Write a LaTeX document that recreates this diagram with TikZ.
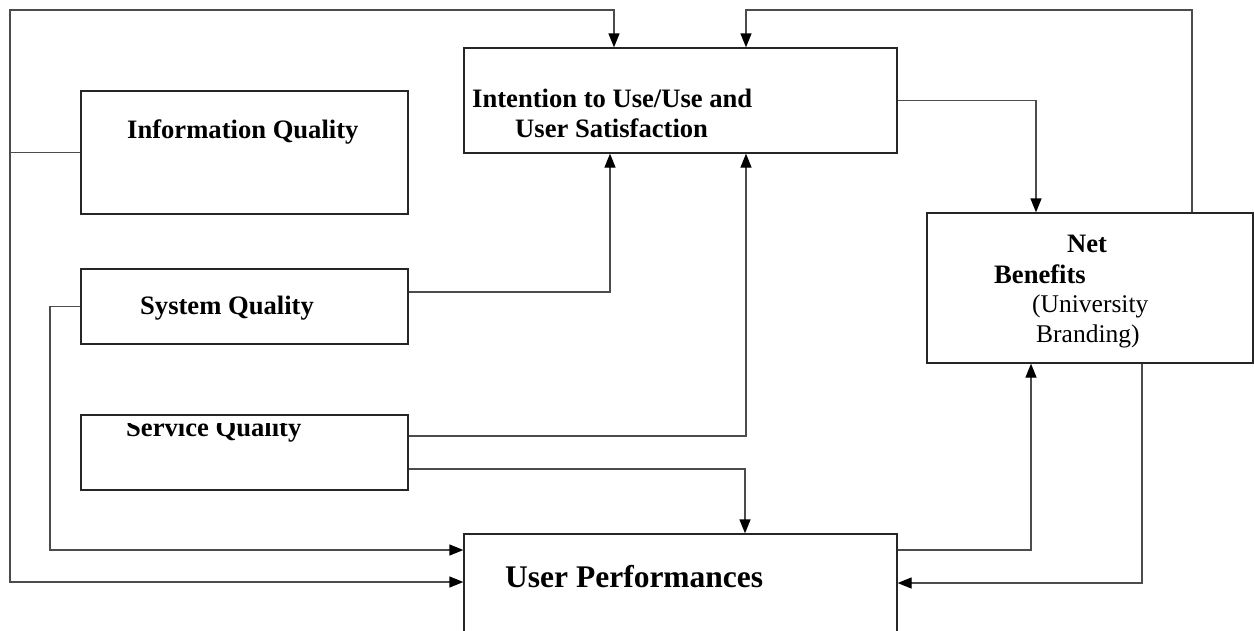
\documentclass[tikz,border=0pt]{standalone}
\usepackage{fontspec}
\setmainfont{Liberation Serif}
\usetikzlibrary{arrows.meta}
\begin{document}
\begin{tikzpicture}[x=1pt,y=-1pt,
  box/.style={draw=black!85,line width=1.3pt,minimum width=#1,inner sep=0pt},
  conn/.style={draw=black!70,line width=1.3pt},
  arr/.style={conn,-{Triangle[length=14pt,width=11pt,color=black]}},
  lbl/.style={anchor=base west,inner sep=0pt,font=\fontsize{26.6}{31}\selectfont\bfseries},
  lblr/.style={anchor=base west,inner sep=0pt,font=\fontsize{25.5}{31}\selectfont},
  big/.style={anchor=base west,inner sep=0pt,font=\fontsize{31.5}{36}\selectfont\bfseries}]
\useasboundingbox[fill=white] (0,0) rectangle (1254,630);
% boxes
\node[box=327pt,minimum height=123pt] (iq) at (244.5,152.5) {};
\node[box=433pt,minimum height=105pt] (it) at (680.5,100.5) {};
\node[box=326pt,minimum height=150pt] (nb) at (1090,288) {};
\node[box=327pt,minimum height=75pt] (sq) at (244.5,306.5) {};
\node[box=327pt,minimum height=75pt] (sv) at (244.5,452.5) {};
\node[box=433pt,minimum height=100pt] (up) at (680.5,584) {};
% labels
\node[lbl] (tiq) at (127,138) {Information Quality};
\node[lbl] (tit1) at (472,107) {Intention to Use/Use and};
\node[lbl] (tit2) at (515,137) {User Satisfaction};
\node[lbl] (tnb1) at (1067,252) {Net};
\node[lbl] (tnb2) at (994,283) {Benefits};
\node[lblr] (tnb3) at (1032,312) {(University};
\node[lblr] (tnb4) at (1036,342) {Branding)};
\node[lbl] (tsq) at (140,314) {System Quality};
\begin{scope}
\clip (82,423) rectangle (407,489);
\node[lbl] (tsv) at (126,436) {Service Quality};
\end{scope}
\node[big] (tup) at (505,587) {User Performances};
% connectors
\coordinate (L) at (10,152.5);
\draw[conn] (iq.west) -- (L);
\draw[arr] (L) |- (614,10) -- (it.north -| 614,0);
\draw[arr] (L) |- (up.west |- 0,582);
\draw[arr] (nb.north -| 1192,0) |- (746,10) -- (it.north -| 746,0);
\draw[arr] (it.east) -| (nb.north -| 1036,0);
\draw[arr] (sq.east |- 0,292) -| (it.south -| 610,0);
\draw[arr] (sq.west) -- (50,306.5) |- (up.west |- 0,550);
\draw[arr] (sv.east |- 0,436) -| (it.south -| 746,0);
\draw[arr] (sv.east |- 0,469) -| (up.north -| 745,0);
\draw[arr] (up.east |- 0,550) -| (nb.south -| 1031,0);
\draw[arr] (nb.south -| 1142,0) |- (up.east |- 0,583);
\end{tikzpicture}
\end{document}
